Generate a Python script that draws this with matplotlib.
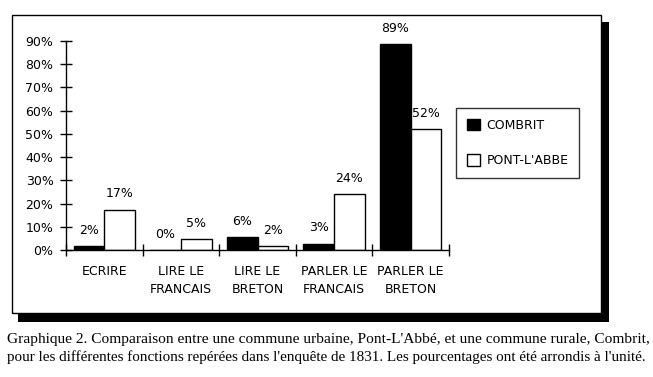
import matplotlib
matplotlib.use("Agg")
import matplotlib.pyplot as plt
from matplotlib.patches import Rectangle
import numpy as np

categories = ["ECRIRE", "LIRE LE\nFRANCAIS", "LIRE LE\nBRETON", "PARLER LE\nFRANCAIS", "PARLER LE\nBRETON"]
combrit = [1.6, 0.0, 5.6, 2.7, 88.6]
pont_labbe = [17.3, 4.6, 1.6, 24.0, 52.0]
series_names = ["COMBRIT", "PONT-L'ABBE"]
y_ticks = [0, 10, 20, 30, 40, 50, 60, 70, 80, 90]
caption_lines = [
    "Graphique 2. Comparaison entre une commune urbaine, Pont-L'Abbé, et une commune rurale, Combrit,",
    "pour les différentes fonctions repérées dans l'enquête de 1831. Les pourcentages ont été arrondis à l'unité.",
]

W, H = 653, 377
fig = plt.figure(figsize=(W / 100, H / 100), dpi=100)
fig.patch.set_facecolor("white")

def fx(px):
    return px / W

def fy(py):
    return 1 - py / H

# shadow and frame
shadow = Rectangle((fx(18), fy(322)), fx(609) - fx(18), fy(22) - fy(322),
                   transform=fig.transFigure, facecolor="black", edgecolor="none", zorder=-3)
frame = Rectangle((fx(12.5), fy(313)), fx(600.5) - fx(12.5), fy(14.5) - fy(313),
                  transform=fig.transFigure, facecolor="white", edgecolor="black", linewidth=1.0, zorder=-2)
fig.patches.extend([shadow, frame])

ax = fig.add_axes([fx(66), fy(250), fx(449) - fx(66), fy(41) - fy(250)])
ax.patch.set_alpha(0)

x = np.arange(len(categories))
w = 0.4
b1 = ax.bar(x - w / 2, combrit, w, color="black", edgecolor="black", linewidth=1.0, label=series_names[0])
b2 = ax.bar(x + w / 2, pont_labbe, w, color="white", edgecolor="black", linewidth=1.0, label=series_names[1])

for bars, vals in ((b1, combrit), (b2, pont_labbe)):
    for rect, v in zip(bars, vals):
        ax.annotate(f"{int(round(v))}%", (rect.get_x() + rect.get_width() / 2, v),
                    xytext=(0, 11.5), textcoords="offset points",
                    ha="center", va="center", fontsize=9)

ax.set_xlim(-0.5, len(categories) - 0.5)
ax.set_ylim(0, 90)
ax.set_yticks(y_ticks)
ax.set_yticklabels([f"{t}%" for t in y_ticks])
ax.tick_params(axis="y", direction="inout", length=8, width=1, pad=5, labelsize=9)

ax.set_xticks(x)
ax.set_xticklabels(categories)
ax.tick_params(axis="x", which="major", length=0, pad=10.5, labelsize=9)
ax.set_xticks(np.arange(-0.5, len(categories)), minor=True)
ax.tick_params(axis="x", which="minor", direction="inout", length=8, width=1)
for t in ax.get_xticklabels():
    t.set_linespacing(1.5)

for s in ("top", "right"):
    ax.spines[s].set_visible(False)
ax.spines["left"].set_linewidth(1)
ax.spines["bottom"].set_linewidth(1)

leg = ax.legend(loc="upper left", bbox_to_anchor=(fx(456), fy(108)), bbox_transform=fig.transFigure,
                fontsize=9, frameon=True, fancybox=False, edgecolor="black",
                handlelength=1.05, handleheight=1.05, handletextpad=0.55,
                labelspacing=1.8, borderpad=0.85, borderaxespad=0)
leg.get_frame().set_linewidth(1.0)

fig.text(fx(7), fy(339), caption_lines[0], family="Liberation Serif", fontsize=11.1, va="center", ha="left")
fig.text(fx(7), fy(357), caption_lines[1], family="Liberation Serif", fontsize=10.9, va="center", ha="left")

fig.savefig("out.png", dpi=100)
